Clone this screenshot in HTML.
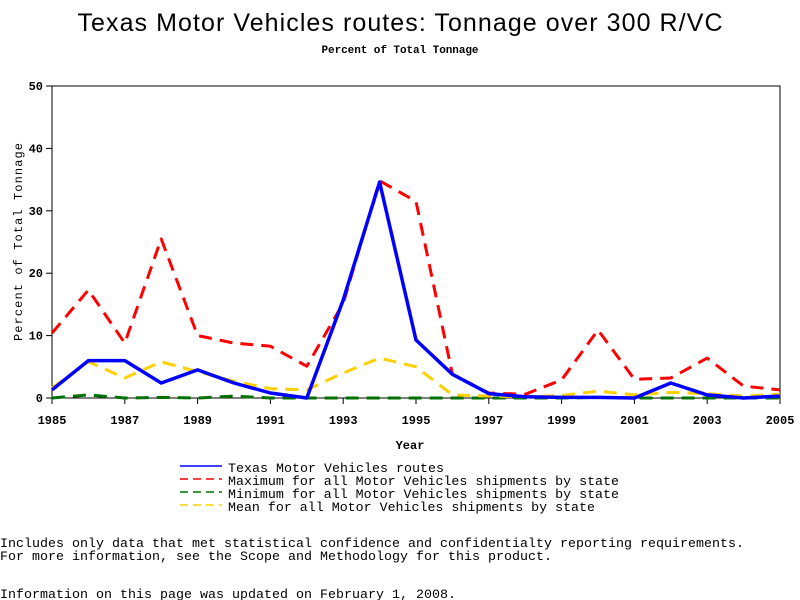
<!DOCTYPE html>
<html><head><meta charset="utf-8"><style>
body{margin:0;background:#fff;}
svg{display:block;}
text{font-family:"Liberation Mono",monospace;fill:#000;}
</style></head><body>
<svg id="chart" width="800" height="600" xmlns="http://www.w3.org/2000/svg">
<text x="400" y="31" text-anchor="middle" style="font-family:'Liberation Sans',sans-serif;font-size:25px" textLength="645">Texas Motor Vehicles routes: Tonnage over 300 R/VC</text>
<text x="400" y="53" text-anchor="middle" style="font-size:11px;font-weight:bold" textLength="157">Percent of Total Tonnage</text>
<rect x="52" y="86" width="728" height="312" fill="none" stroke="#000" stroke-width="1"/>
<g id="yticks"></g><g id="xticks"></g><g id="series"></g>
<text x="410" y="449" text-anchor="middle" style="font-size:12px;font-weight:bold">Year</text>
<text transform="translate(22,242) rotate(-90)" text-anchor="middle" style="font-size:12px" textLength="198">Percent of Total Tonnage</text>
<g>
<line x1="180" y1="466" x2="222" y2="466" stroke="#0000ff" stroke-width="1.5"/>
<text x="228" y="472" style="font-size:13.3px" textLength="216">Texas Motor Vehicles routes</text>
<line x1="180" y1="479" x2="222" y2="479" stroke="#ff0000" stroke-width="1.5" stroke-dasharray="8,5"/>
<text x="228" y="485" style="font-size:13.3px" textLength="391">Maximum for all Motor Vehicles shipments by state</text>
<line x1="180" y1="492" x2="222" y2="492" stroke="#007000" stroke-width="1.5" stroke-dasharray="8,5"/>
<text x="228" y="498" style="font-size:13.3px" textLength="391">Minimum for all Motor Vehicles shipments by state</text>
<line x1="180" y1="505" x2="222" y2="505" stroke="#ffd000" stroke-width="1.5" stroke-dasharray="8,5"/>
<text x="228" y="511" style="font-size:13.3px" textLength="367">Mean for all Motor Vehicles shipments by state</text>
</g>
<text x="0" y="547" style="font-size:13.3px" textLength="744">Includes only data that met statistical confidence and confidentialty reporting requirements.</text>
<text x="0" y="560" style="font-size:13.3px" textLength="552">For more information, see the Scope and Methodology for this product.</text>
<text x="0" y="598" style="font-size:13.3px" textLength="456">Information on this page was updated on February 1, 2008.</text>
</svg>
<script>
const years=[1985,1986,1987,1988,1989,1990,1991,1992,1993,1994,1995,1996,1997,1998,1999,2000,2001,2002,2003,2004,2005];
const texasValues=[1.3,6,6,2.4,4.5,2.4,0.8,0,15.7,34.6,9.3,3.8,0.7,0.2,0.1,0.1,0,2.4,0.5,0,0.3];
const maxValues=[10.4,17.3,8.8,25.5,10,8.8,8.3,5.1,15.2,34.8,31.5,3.8,0.8,0.6,2.9,10.9,3.0,3.2,6.4,1.9,1.3];
const minValues=[0,0.5,0,0.1,0,0.3,0,0,0,0,0,0,0,0,0,0.1,0,0,0,0,0];
const meanValues=[1.6,5.8,3.2,5.8,4.2,2.7,1.5,1.3,4,6.4,5,0.5,0.3,0.2,0.4,1.1,0.5,0.9,0.7,0.3,0.6];
const yTicks=[0,10,20,30,40,50];
const xTickLabels=[1985,1987,1989,1991,1993,1995,1997,1999,2001,2003,2005];
const NS="http://www.w3.org/2000/svg";
const X=v=>52+(v-1985)*(728/20);
const Y=v=>398-v*312/50;
function mk(tag,attrs,parent){const e=document.createElementNS(NS,tag);for(const k in attrs)e.setAttribute(k,attrs[k]);parent.appendChild(e);return e;}
const yt=document.getElementById('yticks');
yTicks.forEach(t=>{
  const l=mk('line',{x1:46,x2:52,y1:Y(t),y2:Y(t),stroke:'#000'},yt);
  
  
  const tx=mk('text',{x:43,y:Y(t)+4,'text-anchor':'end',style:'font-size:12px;font-weight:bold'},yt);
  tx.textContent=t;
  
  
});
const xt=document.getElementById('xticks');
xTickLabels.forEach(t=>{
  const l=mk('line',{x1:X(t),x2:X(t),y1:398,y2:404,stroke:'#000'},xt);
  
  
  const tx=mk('text',{x:X(t),y:424,'text-anchor':'middle',style:'font-size:12px;font-weight:bold'},xt);
  tx.textContent=t;
  
  
});
const sg=document.getElementById('series');
function line(vals,color,w,dash,name){
  const d=vals.map((v,i)=>(i?'L':'M')+X(years[i]).toFixed(1)+','+Y(v).toFixed(1)).join(' ');
  const p=mk('path',{d:d,fill:'none',stroke:color,'stroke-width':w,'stroke-linejoin':'round'},sg);
  if(dash)p.setAttribute('stroke-dasharray',dash);
  
  
}
line(minValues,'#007000',3,'13,8','series-minimum');
line(meanValues,'#ffd000',3,'13,8','series-mean');
line(maxValues,'#ff0000',3,'13,8','series-maximum');
line(texasValues,'#0000ff',3.5,null,'series-texas');
</script>
</body></html>
